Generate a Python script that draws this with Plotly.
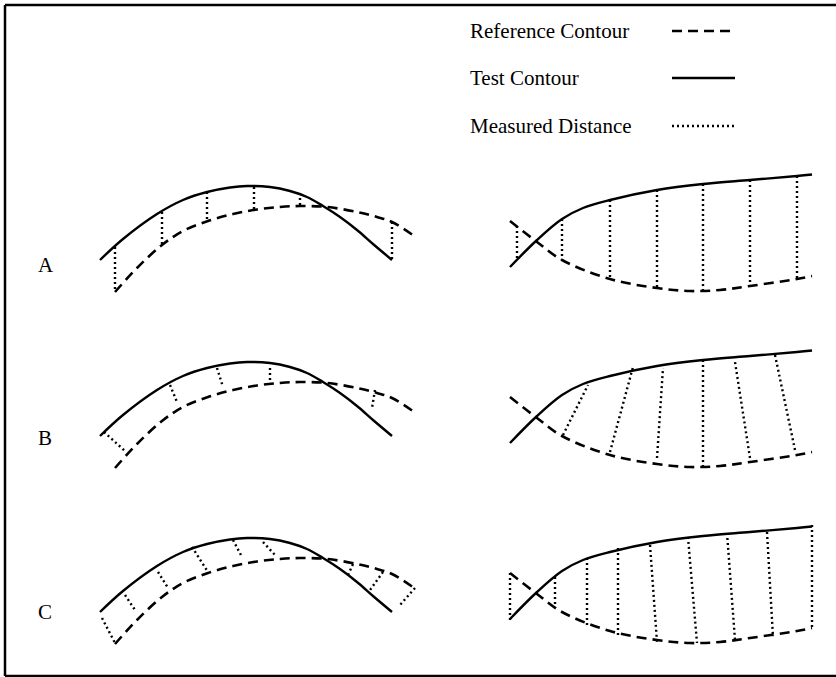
import plotly.graph_objects as go

# ---- contour data (row A page coordinates; other rows are shifted down) ----
ROW_LABELS = ["A", "B", "C"]
ROW_OFFSETS = [0, 176, 352]
LABEL_Y = [265, 438, 612]

TEST_L_X = [100, 123, 157, 183, 207, 230, 247, 270, 290, 307, 323, 340, 357, 373, 392]
TEST_L_Y = [260, 239, 214, 200, 192, 187.5, 186, 187, 191, 197, 206, 217, 230, 244, 260]
REF_L_X = [115, 137, 162, 183, 208, 233, 257, 280, 300, 327, 357, 377, 392, 417]
REF_L_Y = [292, 268, 245, 231, 221, 214, 209.5, 207, 206, 207, 212, 217, 222, 238]

TEST_R_X = [510, 537, 562, 583, 610, 657, 703, 750, 797, 812]
TEST_R_Y = [267, 240, 219, 208, 200, 190, 184, 180, 176, 174.5]
REF_R_X = [510, 537, 562, 610, 657, 690, 720, 750, 797, 812]
REF_R_Y = [221, 242, 260, 279, 288, 291, 290, 286, 279, 276]

# ---- measured distances: (x0, y0, x1, y1) per row, page coordinates ----
DIST_A = [(115, 247, 115, 291), (162, 212, 162, 244), (207, 192, 207, 221),
          (254, 187, 254, 210), (300, 193, 300, 206), (392, 222, 392, 260),
          (517, 226, 517, 260), (562, 219, 562, 260), (610, 200, 610, 279),
          (657, 190, 657, 288), (703, 184, 703, 291), (750, 180, 750, 286),
          (797, 176, 797, 279)]
DIST_B = [(104, 432, 125, 451), (170, 385, 177, 402), (217, 368, 223, 387),
          (270, 368, 270, 381), (375, 390, 372, 408),
          (563, 435, 588, 385), (610, 452, 633, 367), (657, 458, 663, 368),
          (703, 467, 703, 358), (750, 458, 735, 362), (795, 450, 775, 355)]
DIST_C = [(102, 618, 115, 643), (125, 595, 135, 610), (158, 572, 168, 588),
          (192, 547, 208, 572), (233, 540, 242, 557), (263, 542, 275, 555),
          (348, 575, 353, 564), (383, 572, 370, 590), (415, 588, 400, 605),
          (510, 573, 510, 620), (555, 577, 555, 608), (587, 558, 587, 627),
          (618, 548, 618, 635), (650, 545, 657, 642), (688, 537, 697, 643),
          (727, 533, 735, 640), (767, 532, 773, 637), (812, 525, 812, 628)]
DISTANCES = [DIST_A, DIST_B, DIST_C]

LEGEND_TEXT = ["Reference Contour", "Test Contour", "Measured Distance"]
LEGEND_Y = [31, 78, 126]

BLACK = "#000000"
DASH_REF = "10px,6px"
DOT = "2px,3px"
STYLES = [dict(dash=DASH_REF, width=2.6), dict(dash="solid", width=2.4), dict(dash=DOT, width=2.4)]

fig = go.Figure()

for off, dists in zip(ROW_OFFSETS, DISTANCES):
    xs, ys = [], []
    for x0, y0, x1, y1 in dists:
        xs += [x0, x1, None]
        ys += [y0, y1, None]
    fig.add_trace(go.Scatter(x=xs, y=ys, mode="lines", line=dict(color=BLACK, width=2.4, dash=DOT),
                             hoverinfo="skip"))
    for tx, ty, rx, ry in [(TEST_L_X, TEST_L_Y, REF_L_X, REF_L_Y), (TEST_R_X, TEST_R_Y, REF_R_X, REF_R_Y)]:
        fig.add_trace(go.Scatter(x=rx, y=[v + off for v in ry], mode="lines",
                                 line=dict(color=BLACK, width=2.6, dash=DASH_REF, shape="spline", smoothing=1.0),
                                 hoverinfo="skip"))
        fig.add_trace(go.Scatter(x=tx, y=[v + off for v in ty], mode="lines",
                                 line=dict(color=BLACK, width=2.4, shape="spline", smoothing=1.0),
                                 hoverinfo="skip"))

for ly, st in zip(LEGEND_Y, STYLES):
    fig.add_trace(go.Scatter(x=[672, 735], y=[ly, ly], mode="lines",
                             line=dict(color=BLACK, **st), hoverinfo="skip"))

annotations = []
for txt, ly in zip(LEGEND_TEXT, LEGEND_Y):
    annotations.append(dict(x=468, y=ly, text=txt, showarrow=False, xanchor="left", yanchor="middle",
                            font=dict(family="Liberation Serif", size=21, color=BLACK)))
for lab, ly in zip(ROW_LABELS, LABEL_Y):
    annotations.append(dict(x=36, y=ly, text=lab, showarrow=False, xanchor="left", yanchor="middle",
                            font=dict(family="Liberation Serif", size=21, color=BLACK)))

frame = dict(color=BLACK, width=2.5)
shapes = [
    dict(type="line", x0=5, y0=5, x1=836, y1=5, line=frame),
    dict(type="line", x0=5, y0=676, x1=836, y1=676, line=frame),
    dict(type="line", x0=5, y0=5, x1=5, y1=676, line=frame),
]

fig.update_layout(
    width=836, height=677, margin=dict(l=0, r=0, t=0, b=0),
    paper_bgcolor="white", plot_bgcolor="white", showlegend=False,
    xaxis=dict(range=[0, 836], visible=False, fixedrange=True),
    yaxis=dict(range=[677, 0], visible=False, fixedrange=True),
    annotations=annotations,
    shapes=shapes,
)

fig.write_html("out.html", config={"displayModeBar": False},
               post_script="document.body.style.margin='0px';document.body.style.overflow='hidden';")
